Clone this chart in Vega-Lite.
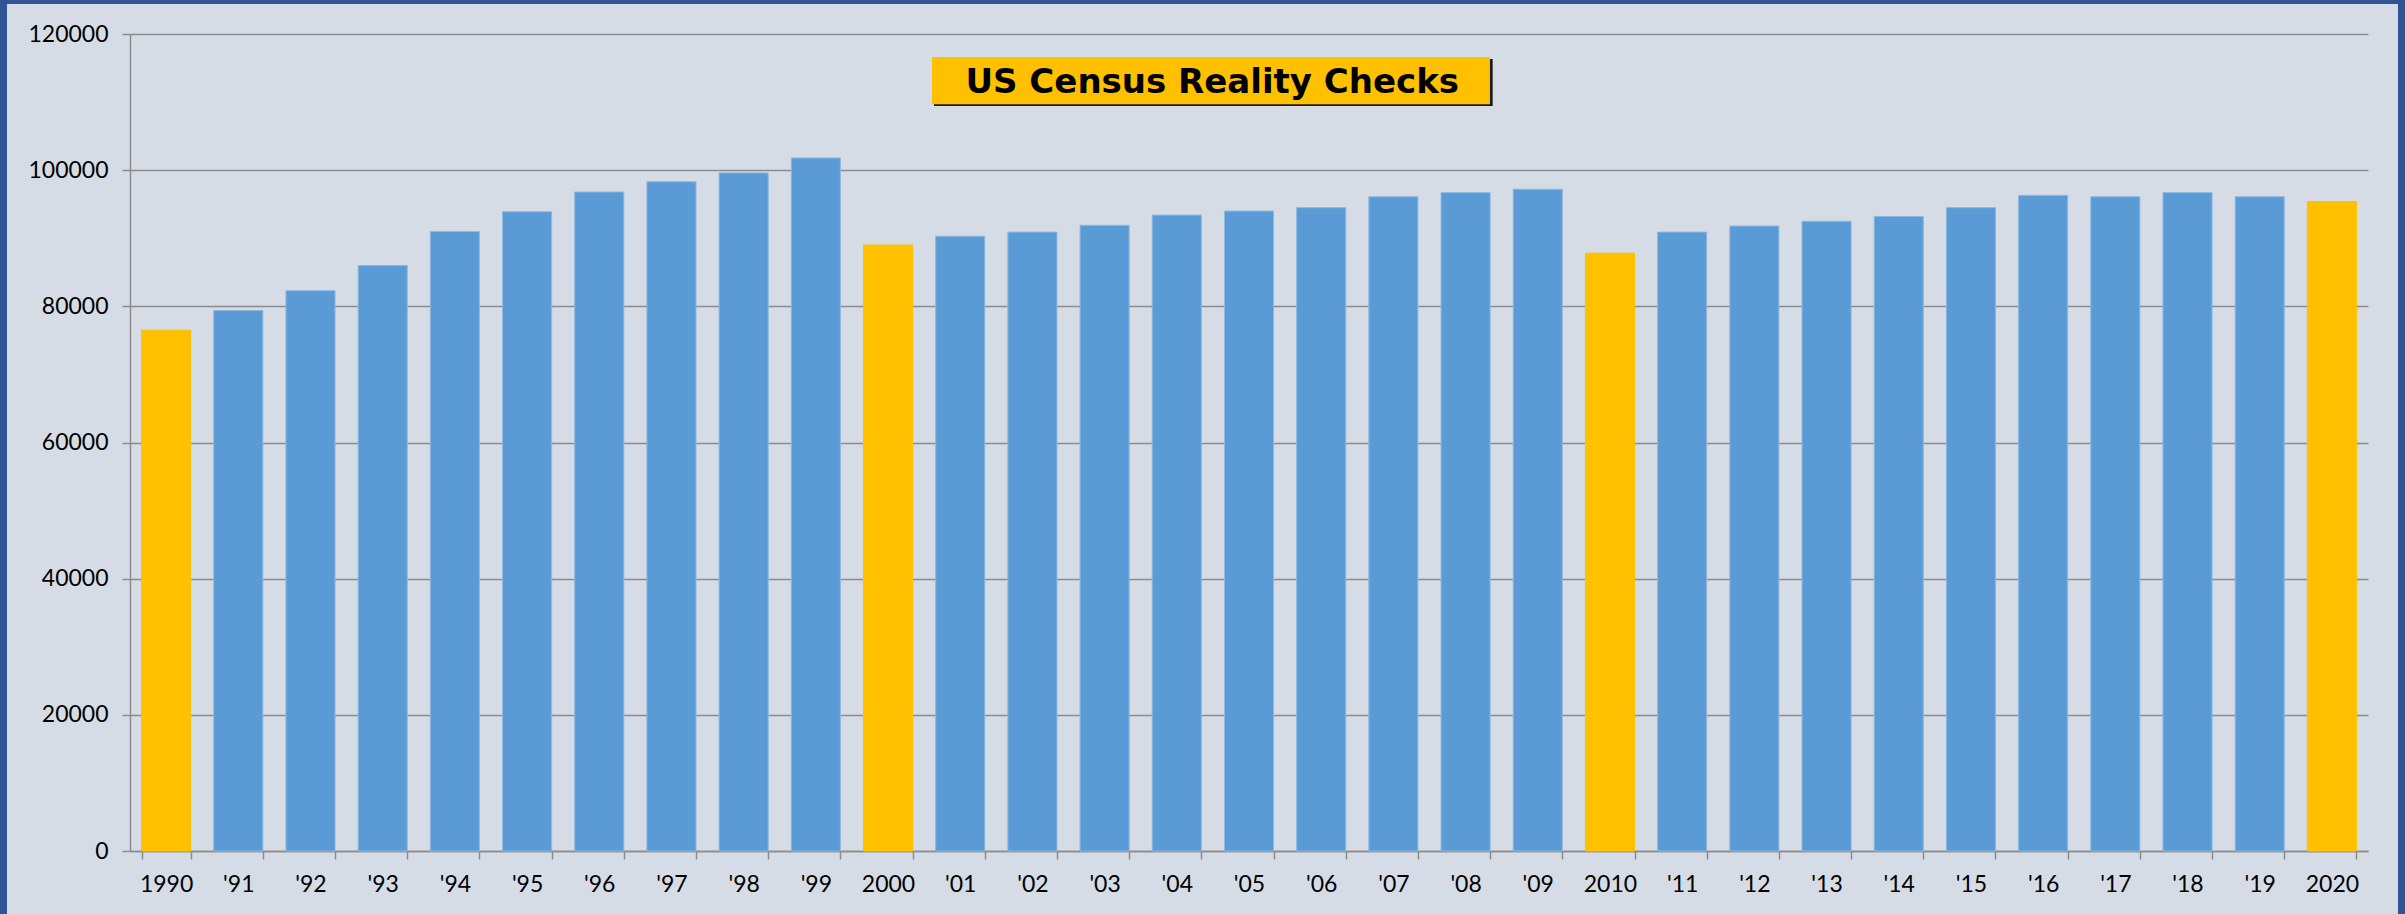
{
  "$schema": "https://vega.github.io/schema/vega-lite/v6.json",
  "autosize": "none",
  "width": 2238,
  "height": 817,
  "padding": {"left": 130, "top": 34, "right": 37, "bottom": 63},
  "background": "#D6DCE5",
  "config": {
    "view": {"stroke": null},
    "font": "Lato",
    "axis": {"labelFont": "Lato", "labelFontSize": 23, "labelColor": "#000000", "domainColor": "#8C8C8C", "tickColor": "#8C8C8C", "gridColor": "#8C8C8C", "domainWidth": 1.5, "tickWidth": 1.5, "gridWidth": 1.5, "tickSize": 8, "title": null}
  },
  "datasets": {
    "census": [
      {"year": "1990", "pop": 76500, "kind": "census"},
      {"year": "'91", "pop": 79400, "kind": "estimate"},
      {"year": "'92", "pop": 82300, "kind": "estimate"},
      {"year": "'93", "pop": 86000, "kind": "estimate"},
      {"year": "'94", "pop": 91000, "kind": "estimate"},
      {"year": "'95", "pop": 93900, "kind": "estimate"},
      {"year": "'96", "pop": 96800, "kind": "estimate"},
      {"year": "'97", "pop": 98300, "kind": "estimate"},
      {"year": "'98", "pop": 99600, "kind": "estimate"},
      {"year": "'99", "pop": 101800, "kind": "estimate"},
      {"year": "2000", "pop": 89000, "kind": "census"},
      {"year": "'01", "pop": 90300, "kind": "estimate"},
      {"year": "'02", "pop": 90900, "kind": "estimate"},
      {"year": "'03", "pop": 91900, "kind": "estimate"},
      {"year": "'04", "pop": 93400, "kind": "estimate"},
      {"year": "'05", "pop": 94000, "kind": "estimate"},
      {"year": "'06", "pop": 94500, "kind": "estimate"},
      {"year": "'07", "pop": 96100, "kind": "estimate"},
      {"year": "'08", "pop": 96700, "kind": "estimate"},
      {"year": "'09", "pop": 97200, "kind": "estimate"},
      {"year": "2010", "pop": 87800, "kind": "census"},
      {"year": "'11", "pop": 90900, "kind": "estimate"},
      {"year": "'12", "pop": 91800, "kind": "estimate"},
      {"year": "'13", "pop": 92500, "kind": "estimate"},
      {"year": "'14", "pop": 93200, "kind": "estimate"},
      {"year": "'15", "pop": 94500, "kind": "estimate"},
      {"year": "'16", "pop": 96300, "kind": "estimate"},
      {"year": "'17", "pop": 96100, "kind": "estimate"},
      {"year": "'18", "pop": 96700, "kind": "estimate"},
      {"year": "'19", "pop": 96100, "kind": "estimate"},
      {"year": "2020", "pop": 95400, "kind": "census"}
    ],
    "label": [{"text": "US Census Reality Checks"}]
  },
  "resolve": {"scale": {"x": "independent"}, "axis": {"x": "independent"}},
  "layer": [
    {
      "data": {"name": "census"},
      "mark": {"type": "bar", "strokeWidth": 1},
      "encoding": {
        "x": {"field": "year", "type": "nominal", "sort": null,
              "scale": {"paddingInner": 0.32, "paddingOuter": 0.16},
              "axis": {"labelAngle": 0, "tickBand": "extent", "labelPadding": 14, "grid": false}},
        "y": {"field": "pop", "type": "quantitative",
              "scale": {"domain": [0, 120000], "nice": false},
              "axis": {"values": [0, 20000, 40000, 60000, 80000, 100000, 120000], "format": "d", "labelPadding": 14, "grid": true}},
        "color": {"field": "kind", "type": "nominal", "scale": {"domain": ["census", "estimate"], "range": ["#FFC000", "#5B9BD5"]}, "legend": null},
        "stroke": {"field": "kind", "type": "nominal", "scale": {"domain": ["census", "estimate"], "range": ["#FFC000", "#8DB8E2"]}, "legend": null}
      }
    },
    {
      "data": {"name": "label"},
      "layer": [
        {
          "mark": {"type": "rect", "fill": "#1A1A1A"},
          "encoding": {
            "x": {"datum": 11.137, "type": "quantitative", "scale": {"domain": [0, 31], "nice": false, "zero": false}, "axis": null},
            "x2": {"datum": 18.875},
            "y": {"datum": 116329, "type": "quantitative"},
            "y2": {"datum": 109426}
          }
        },
        {
          "mark": {"type": "rect", "fill": "#FFC000"},
          "encoding": {
            "x": {"datum": 11.109, "type": "quantitative", "axis": null},
            "x2": {"datum": 18.838},
            "y": {"datum": 116623, "type": "quantitative"},
            "y2": {"datum": 109675}
          }
        },
        {
          "mark": {"type": "text", "font": "DejaVu Sans", "fontWeight": "bold", "fontSize": 34, "color": "#000000", "align": "center", "baseline": "alphabetic"},
          "encoding": {
            "x": {"datum": 14.991, "type": "quantitative", "axis": null},
            "y": {"datum": 111379, "type": "quantitative"},
            "text": {"field": "text"}
          }
        },
        {
          "mark": {"type": "rect", "fill": null, "stroke": "#2F5597", "strokeWidth": 14},
          "encoding": {
            "x": {"datum": -1.8007, "type": "quantitative", "axis": null},
            "x2": {"datum": 31.512},
            "y": {"datum": 125435, "type": "quantitative"},
            "y2": {"datum": -11604}
          }
        }
      ]
    }
  ]
}
